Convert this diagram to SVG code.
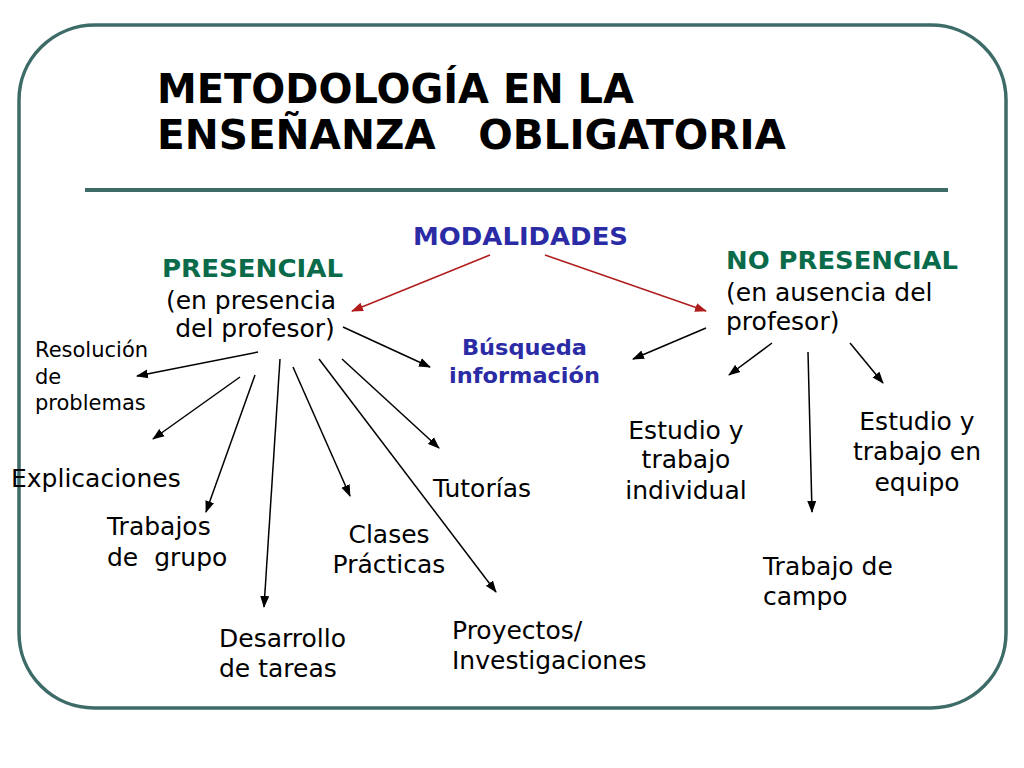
<svg xmlns="http://www.w3.org/2000/svg" width="1024" height="768" viewBox="0 0 1024 768">
<defs>
<marker id="ah" markerUnits="userSpaceOnUse" markerWidth="12" markerHeight="10" refX="11" refY="5" orient="auto"><path d="M0,0.5 L12,5 L0,9.5 Z" fill="#000"/></marker>
<marker id="ahr" markerUnits="userSpaceOnUse" markerWidth="12" markerHeight="10" refX="11" refY="5" orient="auto"><path d="M0,0.5 L12,5 L0,9.5 Z" fill="#b01c1c"/></marker>
<style>
.t{font-family:"DejaVu Sans",Verdana,sans-serif;font-size:25px;fill:#000}
.s{font-family:"DejaVu Sans",Verdana,sans-serif;font-size:21px;fill:#000}
.g{font-family:"DejaVu Sans",Verdana,sans-serif;font-size:25.5px;font-weight:bold;fill:#0a6b4b}
.b{font-family:"DejaVu Sans",Verdana,sans-serif;font-weight:bold;fill:#2b2ba6}
.title{font-family:"DejaVu Sans",Verdana,sans-serif;font-size:40px;font-weight:bold;fill:#000;white-space:pre}
.c line{stroke:#000;stroke-width:1.5;marker-end:url(#ah)}
.c line.r{stroke:#b01c1c;stroke-width:1.5;marker-end:url(#ahr)}
.m{text-anchor:middle}
</style>
</defs>
<rect width="1024" height="768" fill="#fff"/>
<path d="M95,25 H931 A75,75 0 0 1 1006,100 V633 A75,75 0 0 1 931,708 H94 A75,75 0 0 1 19,633 V100 A76,75 0 0 1 95,25 Z" fill="none" stroke="#3d6b68" stroke-width="3.5"/>
<line x1="85" y1="190" x2="948" y2="190" stroke="#3d6b68" stroke-width="4"/>
<g id="title">
<text class="title" x="157" y="103" textLength="477" lengthAdjust="spacingAndGlyphs">METODOLOGÍA EN LA</text>
<text class="title" x="157" y="149" textLength="629" lengthAdjust="spacingAndGlyphs">ENSEÑANZA   OBLIGATORIA</text>
</g>
<g id="modalidades"><text class="b" x="413" y="245" font-size="25.5" textLength="215" lengthAdjust="spacingAndGlyphs">MODALIDADES</text></g>
<g id="presencial">
<text class="g" x="162" y="277" textLength="181" lengthAdjust="spacingAndGlyphs">PRESENCIAL</text>
<text class="t m" x="251" y="309">(en presencia</text>
<text class="t m" x="255" y="337">del profesor)</text>
</g>
<g id="no-presencial">
<text class="g" x="726" y="269" textLength="232" lengthAdjust="spacingAndGlyphs">NO PRESENCIAL</text>
<text class="t" x="726" y="301">(en ausencia del</text>
<text class="t" x="726" y="330">profesor)</text>
</g>
<g id="busqueda">
<text class="b" x="462" y="355" font-size="22" textLength="125" lengthAdjust="spacingAndGlyphs">Búsqueda</text>
<text class="b" x="449" y="383" font-size="22" textLength="151" lengthAdjust="spacingAndGlyphs">información</text>
</g>
<g id="resolucion">
<text class="s" x="35" y="357">Resolución</text>
<text class="s" x="35" y="384">de</text>
<text class="s" x="35" y="410">problemas</text>
</g>
<g id="explicaciones"><text class="t" x="11" y="487">Explicaciones</text></g>
<g id="trabajos-grupo">
<text class="t" x="107" y="535">Trabajos</text>
<text class="t" x="107" y="566" style="white-space:pre">de  grupo</text>
</g>
<g id="desarrollo">
<text class="t" x="219" y="647">Desarrollo</text>
<text class="t" x="219" y="677">de tareas</text>
</g>
<g id="clases">
<text class="t m" x="389" y="543">Clases</text>
<text class="t m" x="389" y="573">Prácticas</text>
</g>
<g id="tutorias"><text class="t" x="433" y="497">Tutorías</text></g>
<g id="proyectos">
<text class="t" x="452" y="639">Proyectos/</text>
<text class="t" x="452" y="669">Investigaciones</text>
</g>
<g id="estudio-individual">
<text class="t m" x="686" y="439">Estudio y</text>
<text class="t m" x="686" y="468">trabajo</text>
<text class="t m" x="686" y="499">individual</text>
</g>
<g id="estudio-equipo">
<text class="t m" x="917" y="430">Estudio y</text>
<text class="t m" x="917" y="460">trabajo en</text>
<text class="t m" x="917" y="491">equipo</text>
</g>
<g id="trabajo-campo">
<text class="t" x="763" y="575">Trabajo de</text>
<text class="t" x="763" y="605">campo</text>
</g>
<g id="connectors" class="c">
<line class="r" x1="490" y1="255" x2="352" y2="311"/>
<line class="r" x1="545" y1="255" x2="706" y2="311"/>
<line x1="258" y1="352" x2="137" y2="376"/>
<line x1="240" y1="377" x2="153" y2="439"/>
<line x1="255" y1="375" x2="206" y2="512"/>
<line x1="280" y1="359" x2="264" y2="607"/>
<line x1="293" y1="367" x2="350" y2="496"/>
<line x1="319" y1="359" x2="496" y2="592"/>
<line x1="342" y1="359" x2="439" y2="448"/>
<line x1="343" y1="327" x2="430" y2="367"/>
<line x1="706" y1="328" x2="633" y2="359"/>
<line x1="772" y1="343" x2="729" y2="375"/>
<line x1="808" y1="352" x2="812" y2="512"/>
<line x1="850" y1="343" x2="883" y2="383"/>
</g>
</svg>
